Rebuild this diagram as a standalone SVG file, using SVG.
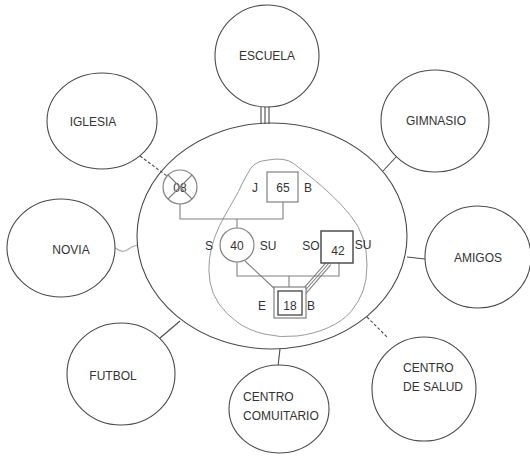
<svg xmlns="http://www.w3.org/2000/svg" width="530" height="456" viewBox="0 0 530 456">
<style>
.sat{fill:#fff;stroke:#4a4a4a;stroke-width:1.1}
.lbl{font-family:"Liberation Sans",Arial,sans-serif;font-size:12px;fill:#333}
.mid{text-anchor:middle}
.con{stroke:#4a4a4a;stroke-width:1.1;fill:none}
.gen{stroke:#808080;stroke-width:1.1;fill:none}
.gnode{fill:#fff;stroke:#808080;stroke-width:1.2}
</style>
<rect width="530" height="456" fill="#fff"/>
<g id="connectors">
<line class="con" x1="261" y1="106" x2="261" y2="124"/>
<line class="con" x1="265" y1="106" x2="265" y2="124"/>
<line class="con" x1="269" y1="106" x2="269" y2="124"/>
<line class="con" x1="396" y1="157" x2="383" y2="171"/>
<line class="con" x1="407" y1="257" x2="425" y2="259"/>
<line class="con" x1="367" y1="317" x2="388" y2="338" stroke-dasharray="3,2"/>
<line class="con" x1="280" y1="349" x2="278" y2="366"/>
<line class="con" x1="160" y1="338" x2="180" y2="321"/>
<path d="M97,251 L107,249 Q112,245 117,249 Q122,253 127,250 Q132,246 138,245" stroke="#aaa" stroke-width="1.2" fill="none"/>
<line class="con" x1="140" y1="156" x2="167" y2="176" stroke-dasharray="3,2"/>
</g>
<g id="familia">
<ellipse class="con" cx="272" cy="236" rx="135" ry="113"/>
</g>
<g id="escuela"><ellipse class="sat" cx="267" cy="56" rx="52" ry="51"/><text class="lbl mid" x="267" y="60">ESCUELA</text></g>
<g id="gimnasio"><ellipse class="sat" cx="435" cy="121" rx="54" ry="51"/><text class="lbl mid" x="436" y="125">GIMNASIO</text></g>
<g id="amigos"><ellipse class="sat" cx="478" cy="257" rx="53" ry="51"/><text class="lbl mid" x="478" y="262">AMIGOS</text></g>
<g id="centro-salud"><ellipse class="sat" cx="424" cy="389" rx="52" ry="52"/><text class="lbl" x="403" y="372">CENTRO</text><text class="lbl" x="403" y="391">DE SALUD</text></g>
<g id="centro-comunitario"><ellipse class="sat" cx="279" cy="409" rx="50" ry="44"/><text class="lbl" x="243" y="401">CENTRO</text><text class="lbl" x="243" y="420">COMUITARIO</text></g>
<g id="futbol"><ellipse class="sat" cx="121" cy="374" rx="54" ry="51"/><text class="lbl mid" x="113" y="380">FUTBOL</text></g>
<g id="novia"><ellipse class="sat" cx="61" cy="248" rx="54" ry="49"/><text class="lbl mid" x="71" y="254">NOVIA</text></g>
<g id="iglesia"><ellipse class="sat" cx="102" cy="121" rx="55" ry="48"/><text class="lbl mid" x="93" y="126">IGLESIA</text></g>
<g id="hogar">
<path d="M268,160 Q285,157 293.5,163.5 Q302,170 312,178 Q322,186 332,195.5 Q342,205 350.5,215.5 Q359,226 363,238 Q367,250 367,265 Q367,280 363,291 Q359,302 351,311.5 Q343,321 328.5,327.5 Q314,334 297,336 Q280,338 264,334 Q248,330 237,322 Q226,314 219,304 Q212,294 210,282 Q208,270 209.5,258.5 Q211,247 215,236.5 Q219,226 224,217 Q229,208 234,199.5 Q239,191 242,184 Q246,176 251,168 Q256,161 268,160 Z" fill="none" stroke="#999" stroke-width="1"/>
</g>
<g id="genograma-lineas">
<path class="gen" d="M180,204 V219 H283 V202"/>
<path class="gen" d="M237,219 V228"/>
<path class="gen" d="M237,262 V276 H339 V263"/>
<path class="gen" d="M289,276 V287"/>
<line class="gen" x1="245" y1="261" x2="277" y2="291"/>
<line class="gen" x1="327.1" y1="261.4" x2="301.1" y2="291.4"/>
<line class="gen" x1="329" y1="263" x2="303" y2="293"/>
<line class="gen" x1="330.9" y1="264.6" x2="304.9" y2="294.6"/>
</g>
<g id="p08">
<circle class="gnode" cx="180" cy="187" r="17"/>
<text class="lbl mid" x="180" y="192">08</text>
<line class="gen" x1="168" y1="175" x2="192" y2="199"/>
<line class="gen" x1="192" y1="175" x2="168" y2="199"/>
</g>
<g id="p65">
<rect class="gnode" x="267" y="172" width="31" height="30"/>
<text class="lbl mid" x="283" y="192">65</text>
<text class="lbl mid" x="255" y="192">J</text>
<text class="lbl mid" x="308" y="192">B</text>
</g>
<g id="p40">
<circle class="gnode" cx="237" cy="245" r="17"/>
<text class="lbl mid" x="237" y="250">40</text>
<text class="lbl mid" x="209" y="250">S</text>
<text class="lbl mid" x="268" y="250">SU</text>
</g>
<g id="p42">
<rect x="321" y="231" width="32" height="32" fill="#fff" stroke="#444" stroke-width="1.4"/>
<text class="lbl mid" x="338" y="255">42</text>
<text class="lbl mid" x="311" y="250">SO</text>
<text class="lbl mid" x="363" y="249">SU</text>
</g>
<g id="p18">
<rect class="gnode" x="274" y="287" width="32" height="31"/>
<rect x="278" y="291" width="24" height="24" fill="none" stroke="#444" stroke-width="1.3"/>
<text class="lbl mid" x="290" y="310">18</text>
<text class="lbl mid" x="262" y="310">E</text>
<text class="lbl mid" x="311" y="310">B</text>
</g>
</svg>
